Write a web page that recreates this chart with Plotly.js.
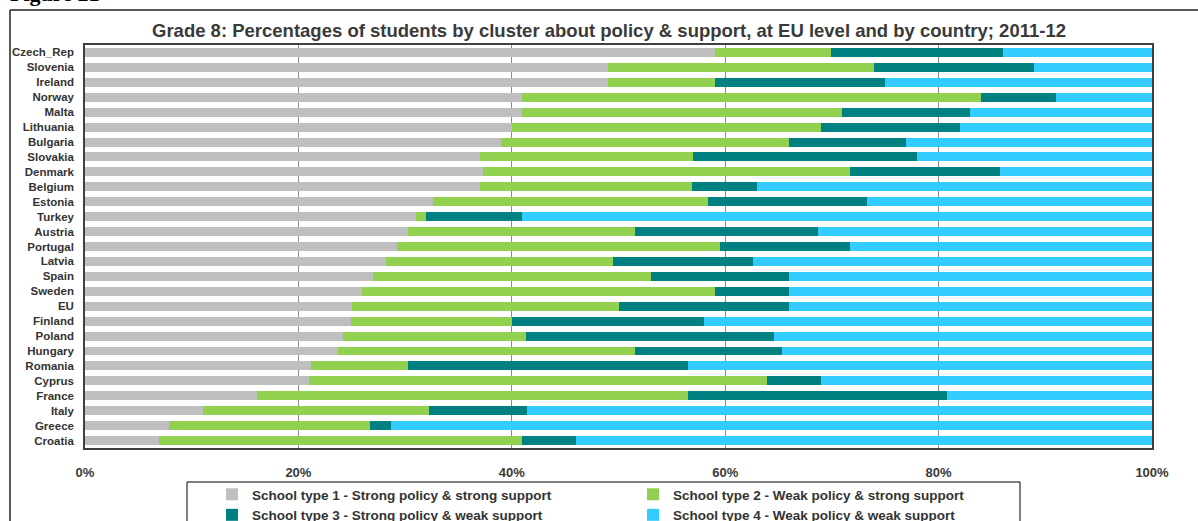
<!DOCTYPE html>
<html>
<head>
<meta charset="utf-8">
<script src="https://cdn.plot.ly/plotly-3.0.1.min.js"></script>
<style>
html,body{margin:0;padding:0;background:#fff;}
#chart{width:1198px;height:521px;}
</style>
</head>
<body>
<div id="chart"></div>
<script>
const countries = ["Czech_Rep","Slovenia","Ireland","Norway","Malta","Lithuania","Bulgaria","Slovakia","Denmark","Belgium","Estonia","Turkey","Austria","Portugal","Latvia","Spain","Sweden","EU","Finland","Poland","Hungary","Romania","Cyprus","France","Italy","Greece","Croatia"];

const type1 = [59.0,49.0,49.0,41.0,41.0,40.0,39.0,37.0,37.3,37.0,32.6,31.0,30.3,29.2,28.2,27.0,26.0,25.0,24.9,24.2,23.7,21.2,21.0,16.1,11.1,7.9,6.9];
const type2 = [10.9,24.9,10.0,43.0,29.9,29.0,27.0,20.0,34.4,19.9,25.8,1.0,21.2,30.3,21.3,26.0,33.0,25.0,15.1,17.1,27.8,9.1,42.9,40.4,21.1,18.8,34.1];
const type3 = [16.1,15.0,16.0,7.0,12.0,13.0,10.9,21.0,14.1,6.1,14.9,9.0,17.2,12.2,13.1,13.0,7.0,16.0,18.0,23.3,13.8,26.2,5.1,24.3,9.2,2.0,5.0];
const type4 = [15.0,11.1,25.0,9.0,17.1,18.0,23.1,22.0,14.2,37.0,26.7,59.0,31.3,28.3,37.4,34.0,34.0,34.0,42.0,35.4,34.7,43.5,31.0,19.2,58.6,71.3,54.0];

const seriesNames = [
  "School type 1 - Strong policy & strong support",
  "School type 2 - Weak policy & strong support",
  "School type 3 - Strong policy & weak support",
  "School type 4 - Weak policy & weak support"
];
const seriesColors = ["#BFBFBF","#92D050","#008080","#33CCFF"];
const xTickVals = [0,20,40,60,80,100];
const xTickText = ["0%","20%","40%","60%","80%","100%"];

const allValues = [type1,type2,type3,type4];
const traces = allValues.map((vals,i)=>({
  type:'bar',
  orientation:'h',
  x: vals,
  y: countries,
  name: seriesNames[i],
  marker:{color: seriesColors[i], line:{width:0}},
  hoverinfo:'x+y+name'
}));

const pw = 1152-85, ph = 448-45;
const px = v => (v-85)/pw;
const py = v => (448-v)/ph;

const layout = {
  width:1198, height:521,
  margin:{l:85, r:46, t:45, b:73, pad:0, autoexpand:false},
  paper_bgcolor:'#ffffff',
  plot_bgcolor:'#ffffff',
  barmode:'stack',
  bargap:0.4,
  font:{family:'"Liberation Sans", Arial, sans-serif', color:'#333333'},
  title:{
    text:'Grade 8: Percentages of students by cluster about policy &amp; support, at EU level and by country; 2011-12',
    font:{size:18.5, weight:'bold', color:'#3a3a3a', family:'"Liberation Sans", Arial, sans-serif'},
    xref:'container', x:609/1198, xanchor:'center',
    yref:'container', y:1-31/521, yanchor:'middle'
  },
  xaxis:{
    range:[0,100],
    tickvals:xTickVals, ticktext:xTickText,
    showgrid:true, gridcolor:'#8c8c8c', gridwidth:1,
    zeroline:false,
    showline:true, mirror:true, linecolor:'#404040', linewidth:1.5,
    ticks:'', ticklabelstandoff:12,
    tickfont:{size:13, weight:'bold', color:'#3a3a3a'},
    fixedrange:true
  },
  yaxis:{
    type:'category',
    autorange:'reversed',
    showgrid:false, zeroline:false,
    showline:true, mirror:true, linecolor:'#404040', linewidth:1.5,
    ticks:'', ticklabelstandoff:7,
    tickfont:{size:11.5, weight:'bold', color:'#333333'},
    fixedrange:true
  },
  legend:{
    orientation:'h',
    x:px(212), xanchor:'left',
    y:py(479), yanchor:'top',
    entrywidth:376, entrywidthmode:'pixels',
    borderwidth:0,
    bgcolor:'rgba(0,0,0,0)',
    font:{size:13.5, weight:'bold', color:'#333333'},
    traceorder:'normal',
    itemclick:false, itemdoubleclick:false
  },
  shapes:[
    {type:'line', xref:'paper', yref:'paper', x0:px(10), x1:px(1215), y0:py(10), y1:py(10), line:{color:'#222222', width:1.5}},
    {type:'line', xref:'paper', yref:'paper', x0:px(10), x1:px(10), y0:py(10), y1:py(540), line:{color:'#222222', width:1.5}},
    {type:'rect', xref:'paper', yref:'paper', x0:px(187), x1:px(1020), y0:py(482), y1:py(545), line:{color:'#000000', width:1}, fillcolor:'rgba(0,0,0,0)'}
  ],
  annotations:[
    {text:'<b>Figure 21</b>', xref:'paper', yref:'paper', x:px(8), xanchor:'left', y:py(8), yanchor:'bottom', showarrow:false,
     font:{family:'"Liberation Serif", "Times New Roman", serif', size:22, color:'#000000'}}
  ]
};

Plotly.newPlot('chart', traces, layout, {displayModeBar:false});
</script>
</body>
</html>
